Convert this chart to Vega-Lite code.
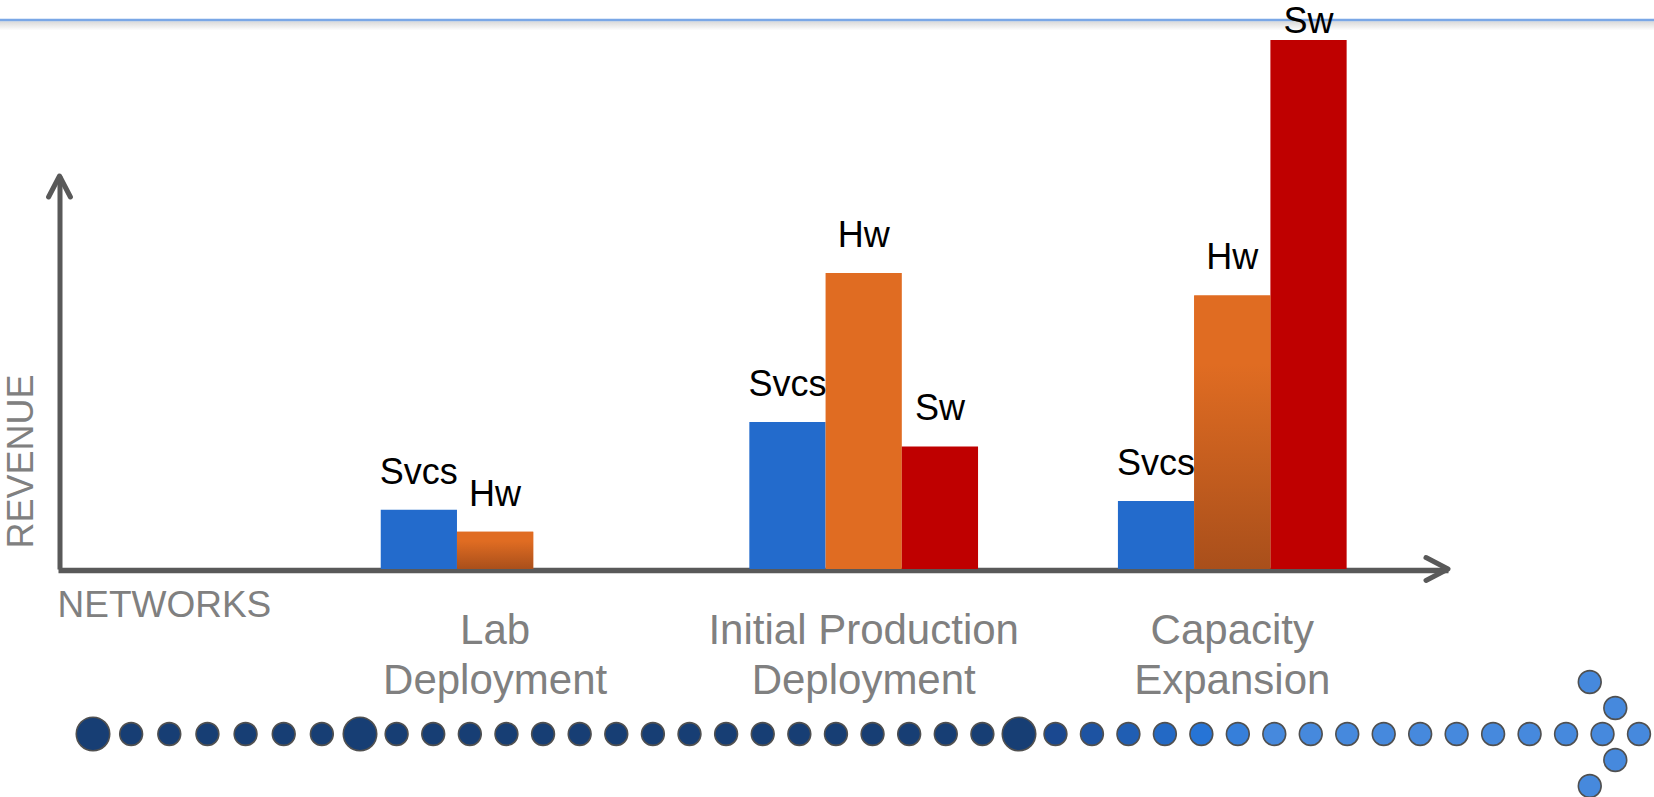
{
  "$schema": "https://vega.github.io/schema/vega-lite/v6.json",
  "width": 1654,
  "height": 797,
  "autosize": {"type": "none"},
  "padding": 0,
  "background": "white",
  "config": {
    "view": {"stroke": null},
    "font": "Liberation Sans",
    "axis": {"grid": false}
  },
  "resolve": {
    "scale": {"x": "independent", "y": "independent", "color": "independent", "size": "independent"},
    "axis": {"x": "independent", "y": "independent"}
  },
  "layer": [
    {
      "data": {"values": [{"part": "frame"}]},
      "layer": [
        {
          "mark": {"type": "rect", "fill": {"gradient": "linear", "x1": 0, "y1": 0, "x2": 0, "y2": 1, "stops": [{"offset": 0, "color": "#d8d8d8"}, {"offset": 1, "color": "#ffffff"}]}},
          "encoding": {
            "y": {"datum": 139.4, "type": "quantitative", "scale": {"domain": [0, 100], "range": [569, 176], "nice": false, "zero": false}, "axis": null},
            "y2": {"datum": 137.0}
          }
        },
        {
          "mark": {"type": "rule", "color": "#7aa7e6", "strokeWidth": 2.5},
          "encoding": {"y": {"datum": 139.7, "type": "quantitative"}}
        },
        {
          "mark": {"type": "point", "shape": "M-0.52,1L0,0L0.52,1", "size": 1764, "filled": false, "stroke": "#595959", "strokeWidth": 5, "strokeCap": "round", "strokeJoin": "round", "opacity": 1},
          "encoding": {
            "x": {"datum": 0, "type": "quantitative", "scale": {"domain": [0, 1], "range": [59.5, 1448], "nice": false, "zero": false}, "axis": null},
            "y": {"datum": 100, "type": "quantitative"}
          }
        },
        {
          "mark": {"type": "point", "shape": "M-1,-0.52L0,0L-1,0.52", "size": 1936, "filled": false, "stroke": "#595959", "strokeWidth": 5, "strokeCap": "round", "strokeJoin": "round", "opacity": 1},
          "encoding": {
            "x": {"datum": 1, "type": "quantitative"},
            "y": {"datum": 0, "type": "quantitative"}
          }
        }
      ]
    },
    {
      "data": {
        "values": [
          {"stage": "Lab Deployment", "item": "Svcs", "revenue": 15.1},
          {"stage": "Lab Deployment", "item": "Hw", "revenue": 9.5},
          {"stage": "Initial Production Deployment", "item": "Svcs", "revenue": 37.4},
          {"stage": "Initial Production Deployment", "item": "Hw", "revenue": 75.3},
          {"stage": "Initial Production Deployment", "item": "Sw", "revenue": 31.2},
          {"stage": "Capacity Expansion", "item": "Svcs", "revenue": 17.3},
          {"stage": "Capacity Expansion", "item": "Hw", "revenue": 69.6},
          {"stage": "Capacity Expansion", "item": "Sw", "revenue": 134.6}
        ]
      },
      "layer": [
        {
          "mark": {"type": "bar"},
          "encoding": {
            "x": {
              "field": "stage", "type": "nominal",
              "scale": {"domain": ["Lab Deployment", "Initial Production Deployment", "Capacity Expansion"], "range": [58, 1448], "paddingInner": 0.3795, "paddingOuter": 0.5753, "align": 0.761},
              "axis": {
                "orient": "bottom", "offset": -227, "domain": true, "domainColor": "#595959", "domainWidth": 5.5, "domainCap": "butt",
                "ticks": false, "tickSize": 0, "labelPadding": 73, "labelFontSize": 42, "labelColor": "#808080", "labelFont": "Liberation Sans",
                "labelLineHeight": 50, "labelBaseline": "alphabetic", "labelAngle": 0, "labelLimit": 0, "labelOverlap": false,
                "labelExpr": "datum.value == 'Initial Production Deployment' ? ['Initial Production', 'Deployment'] : split(datum.value, ' ')",
                "title": "NETWORKS", "titleFont": "Liberation Sans", "titleFontSize": 37, "titleColor": "#808080", "titleFontWeight": "normal",
                "titleAnchor": "start", "titleAlign": "left", "titleBaseline": "alphabetic", "titleX": 57, "titleY": 46, "titleAngle": 0
              }
            },
            "xOffset": {"field": "item", "type": "nominal", "scale": {"domain": ["Svcs", "Hw", "Sw"], "paddingInner": 0, "paddingOuter": 0}},
            "y": {
              "field": "revenue", "type": "quantitative",
              "scale": {"domain": [0, 100], "range": [569, 176], "nice": false, "zero": true},
              "axis": {
                "orient": "left", "offset": -59.5, "domain": true, "domainColor": "#595959", "domainWidth": 5, "domainCap": "butt",
                "ticks": false, "labels": false, "grid": false,
                "title": "REVENUE", "titleFont": "Liberation Sans", "titleFontSize": 36, "titleColor": "#808080", "titleFontWeight": "normal",
                "titleAngle": 270, "titleAlign": "left", "titleBaseline": "alphabetic", "titleX": -27.5, "titleY": 548, "titleAnchor": null
              }
            },
            "color": {"field": "item", "type": "nominal", "scale": {"domain": ["Svcs", "Hw", "Sw"], "range": ["#236bcc", "#e06c22", "#bf0000"]}, "legend": null}
          }
        },
        {
          "transform": [{"filter": "datum.item == 'Hw' && datum.stage != 'Initial Production Deployment'"}],
          "mark": {"type": "bar", "fill": {"gradient": "linear", "x1": 0, "y1": 0, "x2": 0, "y2": 1, "stops": [{"offset": 0, "color": "#e06c22"}, {"offset": 0.25, "color": "#e06c22"}, {"offset": 1, "color": "#a94f1b"}]}},
          "encoding": {
            "x": {"field": "stage", "type": "nominal"},
            "xOffset": {"field": "item", "type": "nominal"},
            "y": {"field": "revenue", "type": "quantitative"}
          }
        },
        {
          "transform": [{"filter": "datum.revenue < 100"}],
          "mark": {"type": "text", "baseline": "alphabetic", "align": "center", "dy": -26, "fontSize": 36, "font": "Liberation Sans", "color": "#000000"},
          "encoding": {
            "x": {"field": "stage", "type": "nominal"},
            "xOffset": {"field": "item", "type": "nominal"},
            "y": {"field": "revenue", "type": "quantitative"},
            "text": {"field": "item"}
          }
        },
        {
          "transform": [{"filter": "datum.revenue >= 100"}],
          "mark": {"type": "text", "baseline": "alphabetic", "align": "center", "dy": -7, "fontSize": 36, "font": "Liberation Sans", "color": "#000000"},
          "encoding": {
            "x": {"field": "stage", "type": "nominal"},
            "xOffset": {"field": "item", "type": "nominal"},
            "y": {"field": "revenue", "type": "quantitative"},
            "text": {"field": "item"}
          }
        }
      ]
    },
    {
      "data": {
        "values": [
          {"step": 0, "lane": 0, "kind": "milestone"},
          {"step": 1, "lane": 0, "kind": "step"},
          {"step": 2, "lane": 0, "kind": "step"},
          {"step": 3, "lane": 0, "kind": "step"},
          {"step": 4, "lane": 0, "kind": "step"},
          {"step": 5, "lane": 0, "kind": "step"},
          {"step": 6, "lane": 0, "kind": "step"},
          {"step": 7, "lane": 0, "kind": "milestone"},
          {"step": 8, "lane": 0, "kind": "step"},
          {"step": 9, "lane": 0, "kind": "step"},
          {"step": 10, "lane": 0, "kind": "step"},
          {"step": 11, "lane": 0, "kind": "step"},
          {"step": 12, "lane": 0, "kind": "step"},
          {"step": 13, "lane": 0, "kind": "step"},
          {"step": 14, "lane": 0, "kind": "step"},
          {"step": 15, "lane": 0, "kind": "step"},
          {"step": 16, "lane": 0, "kind": "step"},
          {"step": 17, "lane": 0, "kind": "step"},
          {"step": 18, "lane": 0, "kind": "step"},
          {"step": 19, "lane": 0, "kind": "step"},
          {"step": 20, "lane": 0, "kind": "step"},
          {"step": 21, "lane": 0, "kind": "step"},
          {"step": 22, "lane": 0, "kind": "step"},
          {"step": 23, "lane": 0, "kind": "step"},
          {"step": 24, "lane": 0, "kind": "step"},
          {"step": 25, "lane": 0, "kind": "milestone"},
          {"step": 26, "lane": 0, "kind": "step"},
          {"step": 27, "lane": 0, "kind": "step"},
          {"step": 28, "lane": 0, "kind": "step"},
          {"step": 29, "lane": 0, "kind": "step"},
          {"step": 30, "lane": 0, "kind": "step"},
          {"step": 31, "lane": 0, "kind": "step"},
          {"step": 32, "lane": 0, "kind": "step"},
          {"step": 33, "lane": 0, "kind": "step"},
          {"step": 34, "lane": 0, "kind": "step"},
          {"step": 35, "lane": 0, "kind": "step"},
          {"step": 36, "lane": 0, "kind": "step"},
          {"step": 37, "lane": 0, "kind": "step"},
          {"step": 38, "lane": 0, "kind": "step"},
          {"step": 39, "lane": 0, "kind": "step"},
          {"step": 40, "lane": 0, "kind": "step"},
          {"step": 41, "lane": 0, "kind": "step"},
          {"step": 42, "lane": 0, "kind": "step"},
          {"step": 40.65, "lane": 2, "kind": "step"},
          {"step": 41.35, "lane": 1, "kind": "step"},
          {"step": 41.35, "lane": -1, "kind": "step"},
          {"step": 40.65, "lane": -2, "kind": "step"}
        ]
      },
      "mark": {"type": "point", "shape": "circle", "filled": true, "stroke": "#505050", "strokeWidth": 1.6, "opacity": 1},
      "encoding": {
        "x": {"field": "step", "type": "quantitative", "scale": {"domain": [0, 7, 25, 42], "range": [93, 360, 1019, 1639], "nice": false, "zero": false}, "axis": null},
        "y": {"field": "lane", "type": "quantitative", "scale": {"domain": [-2, 2], "range": [786, 682], "nice": false, "zero": false}, "axis": null},
        "size": {"field": "kind", "type": "nominal", "scale": {"domain": ["milestone", "step"], "range": [1120, 520]}, "legend": null},
        "color": {"field": "step", "type": "quantitative", "scale": {"domain": [25, 26, 30, 32], "range": ["#173e74", "#1a4890", "#2674d6", "#4689dd"], "clamp": true, "interpolate": "rgb"}, "legend": null}
      }
    }
  ]
}
